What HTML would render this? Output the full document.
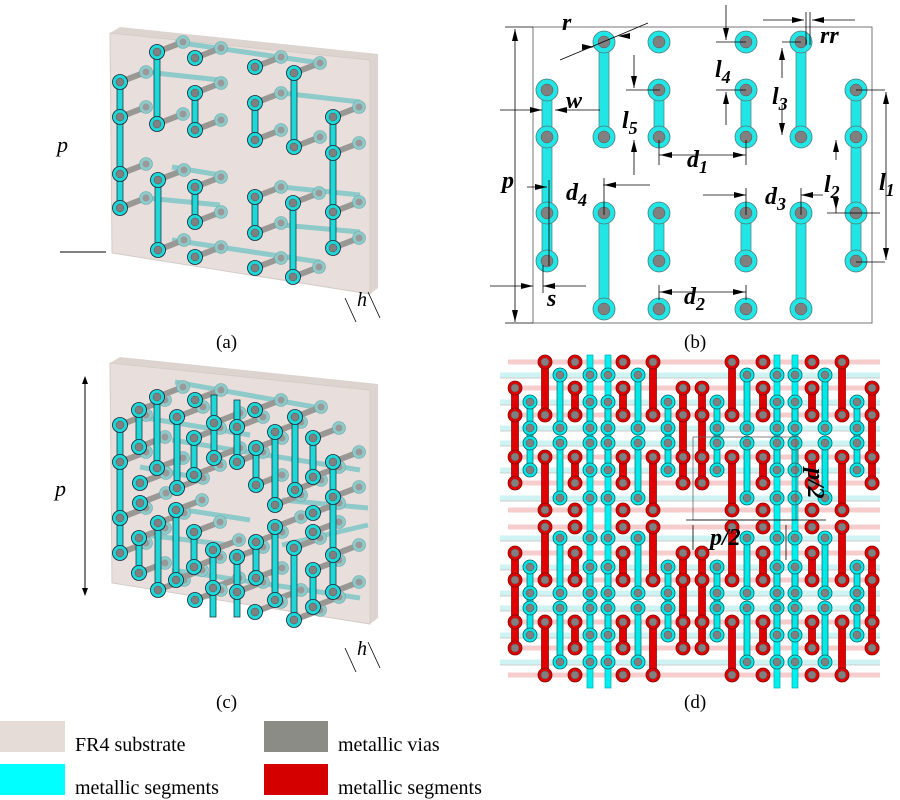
<!DOCTYPE html>
<html><head><meta charset="utf-8"><style>
body{margin:0;background:#fff;}
svg{display:block;font-family:"Liberation Serif",serif;}
.lb{font-size:24px;font-weight:bold;font-style:italic;}
</style></head><body>
<svg id="s" width="900" height="800" viewBox="0 0 900 800" xmlns="http://www.w3.org/2000/svg">
<rect width="900" height="800" fill="#fff"/>
<g id="ga"></g><g id="gb"></g><g id="gc"></g><g id="gd"></g>
<!-- labels -->
<g font-size="19">
<text x="216" y="348">(a)</text><text x="684" y="348">(b)</text>
<text x="216" y="708">(c)</text><text x="684" y="708">(d)</text>
</g>
<!-- (a) annotations -->
<text x="57" y="152" font-size="22" font-style="italic">p</text>
<line x1="60" y1="252" x2="106" y2="252" stroke="#000"/>
<text x="357" y="306" font-size="20" font-style="italic">h</text>
<line x1="345" y1="298" x2="356" y2="322" stroke="#000" stroke-width="0.8"/>
<line x1="368" y1="292" x2="380" y2="318" stroke="#000" stroke-width="0.8"/>
<!-- (c) annotations -->
<line x1="85" y1="378" x2="85" y2="594" stroke="#000"/>
<path d="M85 376 l-3 8 h6z M85 596 l-3 -8 h6z" fill="#000"/>
<text x="55" y="496" font-size="22" font-style="italic">p</text>
<text x="357" y="655" font-size="20" font-style="italic">h</text>
<line x1="345" y1="648" x2="356" y2="672" stroke="#000" stroke-width="0.8"/>
<line x1="368" y1="642" x2="380" y2="668" stroke="#000" stroke-width="0.8"/>
<!-- legend -->
<rect x="0" y="721" width="65" height="31" fill="#e5dcd8"/>
<rect x="264" y="721" width="64" height="31" fill="#8c8c86"/>
<rect x="0" y="764" width="65" height="31" fill="#00ffff"/>
<rect x="264" y="764" width="64" height="31" fill="#d40000"/>
<g font-size="20">
<text x="75" y="751">FR4 substrate</text>
<text x="338" y="751">metallic vias</text>
<text x="75" y="794">metallic segments</text>
<text x="338" y="794">metallic segments</text>
</g>
</svg>
<script>
var NS="http://www.w3.org/2000/svg";
function el(p,t,a){var e=document.createElementNS(NS,t);for(var k in a)e.setAttribute(k,a[k]);p.appendChild(e);return e;}
function seg(g,x,y1,y2,w,c,st){el(g,'rect',{x:x-w/2,y:y1,width:w,height:y2-y1,fill:c,stroke:st||'#333','stroke-width':0.7});}
function via(g,x,y,r,ri,c,st){el(g,'circle',{cx:x,cy:y,r:r,fill:c,stroke:st||'#333','stroke-width':0.8});el(g,'circle',{cx:x,cy:y,r:ri,fill:'#808080',stroke:'#555','stroke-width':0.5});}
// pattern (b): [col, [vias], [segments]]
var P=[[[1,2,3,4],[[1,4]]],[[0,2,3,5],[[0,2],[3,5]]],[[0,1,2,3,4,5],[[1,2],[3,4]]],[[0,1,2,3,4,5],[[1,2],[3,4]]],[[0,2,3,5],[[0,2],[3,5]]],[[1,2,3,4],[[1,4]]]];
function pattern(g,cols,rows,r,ri,w,c,st){
 for(var i=0;i<6;i++){var x=cols[i];P[i][1].forEach(function(s){seg(g,x,rows[s[0]],rows[s[1]],w,c,st);});}
 for(var i=0;i<6;i++){var x=cols[i];P[i][0].forEach(function(j){via(g,x,rows[j],r,ri,c,st);});}
}
// ---------- (b)
var gb=document.getElementById('gb');
el(gb,'rect',{x:533,y:27,width:339,height:296,fill:'none',stroke:'#777','stroke-width':1});
pattern(gb,[547,604,659,746,801,856],[42,90,137,213,261,309],11,6,10,'#22e6e6','#4a7a7a');
function ln(g,x1,y1,x2,y2){el(g,'line',{x1:x1,y1:y1,x2:x2,y2:y2,stroke:'#000','stroke-width':0.8});}
function ar(g,x,y,dir){var d={r:'M'+x+' '+y+' l-12 -3 v6z',l:'M'+x+' '+y+' l12 -3 v6z',u:'M'+x+' '+y+' l-3 12 h6z',d:'M'+x+' '+y+' l-3 -12 h6z'}[dir];el(g,'path',{d:d,fill:'#000'});}
// p vertical
ln(gb,515,29,515,322);ar(gb,515,29,'u');ar(gb,515,322,'d');ln(gb,505,27,533,27);ln(gb,505,323,533,323);
ln(gb,490,286,533,286);ar(gb,533,286,'r');ln(gb,543,286,586,286);ar(gb,543,286,'l');ln(gb,543,265,543,293);
ln(gb,527,187,547,187);ar(gb,547,187,'r');ln(gb,549,180,549,266);
ln(gb,500,110,542,110);ar(gb,542,110,'r');ln(gb,555,110,600,110);ar(gb,555,110,'l');
ln(gb,560,60,648,23);ar(gb,594,47,'r');ar(gb,618,36,'l');
ln(gb,634,55,634,88);ar(gb,634,88,'d');ln(gb,626,90,660,90);ln(gb,634,140,634,175);ar(gb,634,140,'u');
ln(gb,659,155,746,155);ar(gb,660,155,'l');ar(gb,745,155,'r');ln(gb,659,140,659,165);ln(gb,746,140,746,165);
ln(gb,603,185,650,185);ar(gb,604,185,'l');ln(gb,604,178,604,215);
ln(gb,703,195,746,195);ar(gb,746,195,'r');ln(gb,746,188,746,215);
ln(gb,801,195,823,195);ar(gb,801,195,'l');ln(gb,801,188,801,215);
ln(gb,726,5,726,40);ar(gb,726,40,'d');ln(gb,716,42,746,42);ln(gb,716,90,746,90);ln(gb,726,92,726,125);ar(gb,726,92,'u');
ln(gb,782,42,801,42);ln(gb,782,48,782,78);ar(gb,782,48,'u');ln(gb,782,105,782,135);ar(gb,782,135,'d');
ln(gb,763,20,804,20);ar(gb,804,20,'r');ln(gb,812,20,855,20);ar(gb,812,20,'l');ln(gb,806,12,806,45);ln(gb,810,12,810,45);
ln(gb,836,140,836,160);ar(gb,836,140,'u');ln(gb,836,197,836,213);ar(gb,836,210,'d');ln(gb,827,213,880,213);
ln(gb,856,90,885,90);ln(gb,856,262,885,262);ln(gb,886,92,886,260);ar(gb,886,92,'u');ar(gb,886,260,'d');
ln(gb,659,292,746,292);ar(gb,660,292,'l');ar(gb,745,292,'r');ln(gb,659,285,659,300);ln(gb,746,285,746,300);
var L=[['r',562,30],['w',566,108],['p',502,188],['d',566,200,'4'],['s',547,306],['l',622,128,'5'],['d',687,167,'1'],['d',684,304,'2'],['l',715,77,'4'],['l',772,104,'3'],['rr',820,43],['d',765,204,'3'],['l',824,192,'2'],['l',879,190,'1']];
L.forEach(function(a){var t=el(gb,'text',{x:a[1],y:a[2],'class':'lb'});t.textContent=a[0];if(a[3]){var s=el(t,'tspan',{dy:6,'font-size':18});s.textContent=a[3];}});
// ---------- 3D panels
function box(g,oy){
 el(g,'polygon',{points:'110,'+(oy+13)+' 120,'+(oy+7)+' 378,'+(oy+34)+' 370,'+(oy+40),fill:'#ddd4d0'});
 el(g,'polygon',{points:'370,'+(oy+40)+' 378,'+(oy+34)+' 378,'+(oy+268)+' 370,'+(oy+274),fill:'#ddd4d0'});
 el(g,'polygon',{points:'110,'+(oy+13)+' 370,'+(oy+40)+' 370,'+(oy+274)+' 112,'+(oy+233),fill:'#e8dfdc',stroke:'#d5ccc8'});
}
function rod(g,x,y){el(g,'line',{x1:x,y1:y,x2:x+26,y2:y-10,stroke:'#9a9894','stroke-width':6,'stroke-linecap':'round'});
 el(g,'circle',{cx:x+26,cy:y-10,r:6.5,fill:'#8fcaca',stroke:'#6aa','stroke-width':0.6});el(g,'circle',{cx:x+26,cy:y-10,r:3.5,fill:'#999'});}
function d3(g,segs,singles,backs){
 backs.forEach(function(b){el(g,'line',{x1:b[0],y1:b[1],x2:b[2],y2:b[3],stroke:'#8fcaca','stroke-width':5});});
 var vs=[];segs.forEach(function(s){s[1].forEach(function(y){vs.push([s[0],y]);});});singles.forEach(function(v){vs.push(v);});
 vs.forEach(function(v){rod(g,v[0],v[1]);});
 segs.forEach(function(s){var ys=s[1];seg(g,s[0],s[2]||ys[0],s[3]||ys[ys.length-1],6,'#1ed8d8','#123');});
 vs.forEach(function(v){via(g,v[0],v[1],7.5,4,'#1ed8d8','#123');});
}
var ga=document.getElementById('ga');box(ga,20);
d3(ga,[[120,[82,117,174,208]],[157,[52,124]],[195,[93,130]],[255,[103,140]],[294,[73,147]],[333,[117,153,212,248]],[158,[180,250]],[195,[187,222]],[255,[197,233]],[293,[203,277]]],
 [[195,58],[255,67],[195,257],[255,268]],
 [[175,42,320,63],[146,72,220,80],[282,93,360,102],[172,167,220,175],[146,198,220,205],[282,187,360,195],[172,240,320,262],[282,225,360,232]]);
var gc=document.getElementById('gc');box(gc,350);
d3(gc,[[120,[425,462,518,553]],[139,[410,447]],[157,[397,468]],[177,[417,488]],[194,[438,475]],[214,[423,458],395],[237,[427,462],400],[256,[448,485]],[275,[432,505]],[295,[417,490]],[313,[438,477]],[333,[462,497,555,592]],
 [139,[538,573]],[158,[523,590]],[176,[510,580]],[194,[532,567]],[213,[550,588],null,617],[237,[557,592],null,617],[256,[542,578]],[275,[527,600]],[294,[548,620]],[313,[570,607]]],
 [[140,483],[140,503],[195,400],[255,410],[313,513],[313,532],[195,600],[255,612]],
 [[175,382,320,408],[146,418,250,435],[172,440,360,470],[140,467,200,478],[172,508,250,520],[282,500,368,508],[146,535,230,545],[172,570,360,598],[282,545,368,525]]);
// ---------- (d)
var gd=document.getElementById('gd');
var rr=[362,388,415,457,483,510,527,553,580,622,648,675],cr=[375,402,428,443,470,498,538,567,593,608,635,662];
rr.forEach(function(y){el(gd,'line',{x1:508,y1:y,x2:880,y2:y,stroke:'#f6cccc','stroke-width':5});});
cr.forEach(function(y){el(gd,'line',{x1:500,y1:y,x2:880,y2:y,stroke:'#cdf3f3','stroke-width':5});el(gd,'line',{x1:500,y1:y+3,x2:880,y2:y+3,stroke:'#999','stroke-width':0.5});});
var RC=[[515,545,575,623,653,683],[702,732,763,812,842,872]],CC=[[530,560,590,608,638,668],[717,747,777,795,825,857]];
var RR=[rr.slice(0,6),rr.slice(6)],CRw=[cr.slice(0,6),cr.slice(6)];
[590,608,777,795].forEach(function(x){seg(gd,x,355,688,6,'#00f0f0','#0aa');});
for(var i=0;i<2;i++)for(var j=0;j<2;j++){
 pattern(gd,RC[i],RR[j],7,4,7,'#e00000','#800');
}
for(var i=0;i<2;i++)for(var j=0;j<2;j++){
 pattern(gd,CC[i],CRw[j],7,4,6,'#00e8e8','#066');
}
el(gd,'rect',{x:693,y:437,width:103,height:83,fill:'none',stroke:'#666','stroke-width':0.8});
ln(gd,686,520,826,520);ln(gd,693,525,693,550);ln(gd,786,525,786,560);
var t=el(gd,'text',{x:710,y:545,'class':'lb'});t.textContent='p/2';
var t2=el(gd,'text',{x:0,y:0,'class':'lb',transform:'translate(808,468) rotate(90)'});t2.textContent='p/2';
</script>
</body></html>
